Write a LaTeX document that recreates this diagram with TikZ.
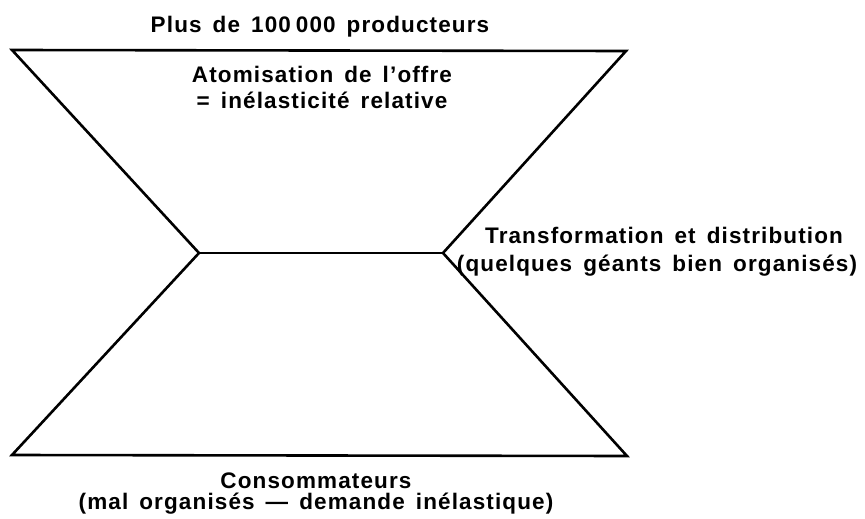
\documentclass[tikz,border=0pt]{standalone}
\usepackage{fontspec}
\setmainfont{Liberation Sans}[BoldFont={* Bold}]
\newfontfamily\lbl{Liberation Sans Bold}[LetterSpace=5,WordSpace=1.5]
\begin{document}
\begin{tikzpicture}[x=1pt,y=-1pt,
  edge/.style={line width=2.6pt,line join=miter,black},
  txt/.style={anchor=base,inner sep=0pt,font=\lbl\fontsize{22.5}{24}\selectfont}]
\useasboundingbox (0,0) rectangle (865,519);
\coordinate (A) at (12,50);
\coordinate (B) at (626,51);
\coordinate (C) at (443,253);
\coordinate (D) at (627,456);
\coordinate (E) at (12,455);
\coordinate (F) at (199,253);
\draw[edge] (A) -- (B) -- (C) -- (D) -- (E) -- (F) -- cycle;
\draw[edge] (F) -- (C);
\node[txt] (prod) at (320,33) {Plus de 100\hspace{0.22em}000 producteurs};
\node[txt] (atom1) at (322,82) {Atomisation de l’offre};
\node[txt] (atom2) at (322,108) {= inélasticité relative};
\node[txt] (tr1) at (664,243) {Transformation et distribution};
\node[txt] (tr2) at (657,271) {(quelques géants bien organisés)};
\node[txt] (cons1) at (316,488) {Consommateurs};
\node[txt] (cons2) at (316,509) {(mal organisés — demande inélastique)};
\end{tikzpicture}
\end{document}
